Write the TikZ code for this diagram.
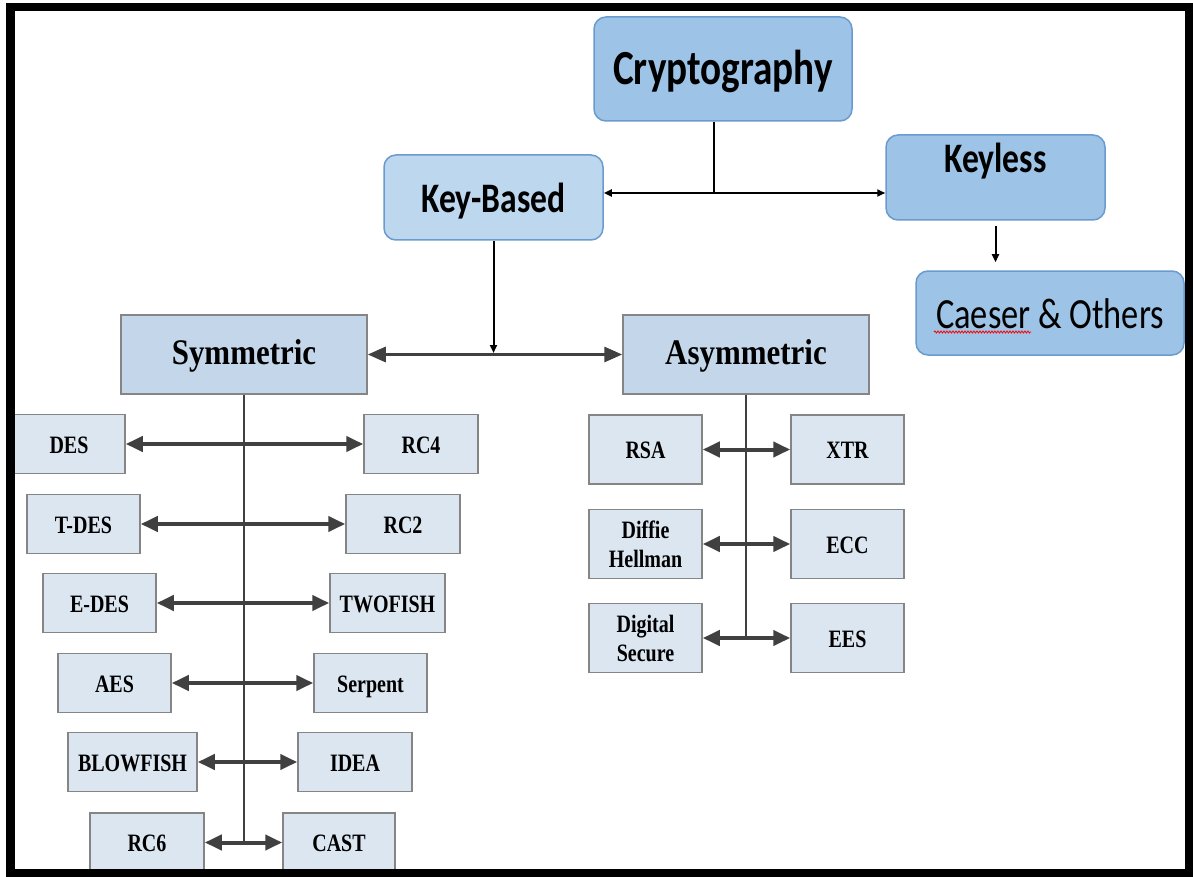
\documentclass[tikz,border=0pt]{standalone}
\usepackage{fontspec}
\setmainfont{Liberation Serif}[FakeStretch=0.8]
\newfontfamily\calfont{Carlito}[FakeStretch=0.8]
\newfontfamily\headfont{Liberation Serif}[FakeStretch=0.86]
\usetikzlibrary{arrows.meta,decorations.pathmorphing,calc}
\definecolor{bluefill}{HTML}{9DC3E6}
\definecolor{keyfill}{HTML}{BDD7EE}
\definecolor{bluedraw}{HTML}{6A9BCF}
\definecolor{headfill}{HTML}{C4D6E9}
\definecolor{leaffill}{HTML}{DCE6F1}
\definecolor{greydraw}{HTML}{858585}
\definecolor{darkline}{HTML}{404040}
\tikzset{
  topbox/.style={rectangle, rounded corners=12pt, draw=bluedraw, line width=1.5pt,
    fill=bluefill, inner sep=0pt, text=black},
  headbox/.style={rectangle, draw=greydraw, line width=1.5pt, fill=headfill,
    inner sep=0pt, minimum width=246pt, minimum height=79pt,
    font=\headfont\bfseries\fontsize{36}{40}\selectfont, text height=19pt, text depth=0pt},
  leafbox/.style={rectangle, draw=greydraw, line width=1.5pt, fill=leaffill,
    inner sep=0pt, minimum width=113pt, font=\bfseries\fontsize{25}{29}\selectfont},
  oneline/.style={leafbox, minimum height=59pt, text height=18pt, text depth=0pt},
  asymleaf/.style={leafbox, minimum height=69pt},
  thinarrow/.style={draw=black, line width=2pt},
  smalltip/.style={-{Triangle[length=8pt,width=7pt]}},
  twosmall/.style={{Triangle[length=8pt,width=7pt]}-{Triangle[length=8pt,width=7pt]}},
  stem/.style={draw=darkline, line width=2.5pt},
  bigtwo/.style={draw=darkline, line width=4pt,
    {Triangle[length=17pt,width=15pt]}-{Triangle[length=17pt,width=15pt]}},
}
\begin{document}
\begin{tikzpicture}[x=1pt,y=-1pt]
\useasboundingbox (0,0) rectangle (1193,877);
\fill[white] (0,0) rectangle (1193,877);
\begin{scope}
\clip (15,11) rectangle (1185,870);
% top level
\node[topbox, minimum width=258pt, minimum height=104pt, text height=32pt, text depth=0pt,
  font=\calfont\bfseries\fontsize{49}{56}\selectfont] (crypt) at (723,69) {Cryptography};
\node[topbox, fill=keyfill, minimum width=219pt, minimum height=85pt, text height=31pt, text depth=0pt,
  font=\calfont\bfseries\fontsize{42}{48}\selectfont] (keybased) at (493.5,197.5) {Key-Based};
\node[topbox, minimum width=219pt, minimum height=85pt, text height=27pt, text depth=36pt,
  font=\calfont\bfseries\fontsize{42}{48}\selectfont] (keyless) at (995.5,177.5) {Keyless};
\node[topbox, minimum width=268pt, minimum height=84pt, text height=30pt, text depth=0pt,
  font=\calfont\fontsize{43}{48}\selectfont] (caeser) at (1050,313) {Caeser \& Others};
% second level
\node[headbox] (sym) at (244,354.5) {Symmetric};
\node[headbox] (asym) at (746,354.5) {Asymmetric};
% symmetric leaves
\node[oneline, minimum width=112pt] (des) at (69,444) {DES};
\node[oneline, minimum width=114pt] (rc4) at (421,444) {RC4};
\node[oneline] (tdes) at (83.5,524) {T-DES};
\node[oneline, minimum width=114pt] (rc2) at (403,524) {RC2};
\node[oneline] (edes) at (99.5,603) {E-DES};
\node[oneline, minimum width=115pt] (twofish) at (387.5,603) {TWOFISH};
\node[oneline] (aes) at (114.5,683) {AES};
\node[oneline] (serpent) at (370.5,683) {Serpent};
\node[oneline, minimum width=129pt] (blowfish) at (132.5,762) {BLOWFISH};
\node[oneline, minimum width=114pt] (idea) at (355,762) {IDEA};
\node[oneline, minimum width=114pt] (rc6) at (147,842.5) {RC6};
\node[oneline, minimum width=112pt] (cast) at (339,842.5) {CAST};
% asymmetric leaves
\node[asymleaf, text height=18pt, text depth=0pt] (rsa) at (645.5,449.5) {RSA};
\node[asymleaf, text height=18pt, text depth=0pt] (xtr) at (847.5,449.5) {XTR};
\node[asymleaf, align=center] (dh) at (645.5,544) {Diffie\\Hellman};
\node[asymleaf, text height=18pt, text depth=0pt] (ecc) at (847.5,544) {ECC};
\node[asymleaf, align=center] (ds) at (645.5,638) {Digital\\Secure};
\node[asymleaf, text height=18pt, text depth=0pt] (ees) at (847.5,638) {EES};
% spell-check underline
\draw[red, line width=0.8pt, decorate, decoration={snake, amplitude=1pt, segment length=3pt}]
  (934,332) -- (1031,332);
% top connectors
\coordinate (j1) at (714,193);
\draw[thinarrow] (j1 |- crypt.south) -- (j1);
\draw[thinarrow, twosmall] (keybased.east |- j1) -- (keyless.west |- j1);
\draw[thinarrow, smalltip] ($(keyless.south)+(0,5)$) -- ($(keyless.south |- caeser.north)+(0,-8)$);
\coordinate (j2) at (493.5,353);
\draw[thinarrow, smalltip] (keybased.south) -- (j2);
\draw[draw=darkline, line width=3pt,
  {Triangle[length=18pt,width=15pt]}-{Triangle[length=18pt,width=15pt]}] (sym.east) -- (asym.west);
% symmetric tree
\draw[stem] (sym.south) -- (sym.south |- rc6.east);
\draw[bigtwo] (des.east) -- (rc4.west);
\draw[bigtwo] (tdes.east) -- (rc2.west);
\draw[bigtwo] (edes.east) -- (twofish.west);
\draw[bigtwo] (aes.east) -- (serpent.west);
\draw[bigtwo] (blowfish.east) -- (idea.west);
\draw[bigtwo] (rc6.east) -- (cast.west);
% asymmetric tree
\draw[stem] (asym.south) -- (asym.south |- ds.east);
\draw[bigtwo] (rsa.east) -- (xtr.west);
\draw[bigtwo] (dh.east) -- (ecc.west);
\draw[bigtwo] (ds.east) -- (ees.west);
\end{scope}
\draw[line width=8.5pt] (10.5,7) rectangle (1189,873.5);
\end{tikzpicture}
\end{document}
